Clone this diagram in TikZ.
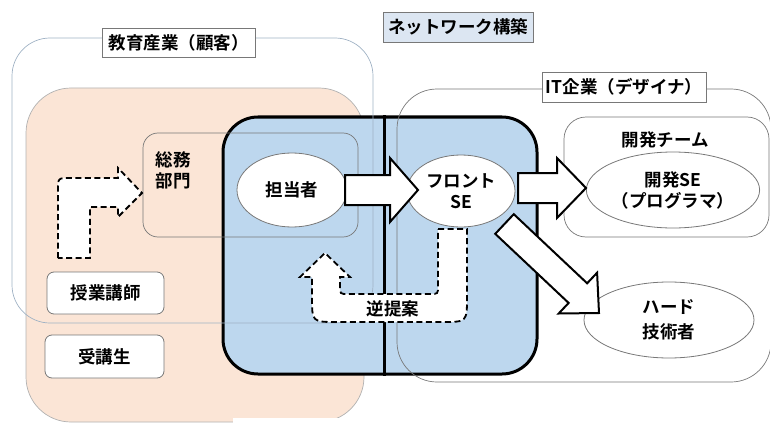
\documentclass[tikz,border=0pt]{standalone}
\usepackage{fontspec}
\setmainfont{Noto Sans CJK JP}[BoldFont={Noto Sans CJK JP Bold}]
\usetikzlibrary{calc,shapes.geometric}

\definecolor{peach}{RGB}{251,229,214}
\definecolor{paleblue}{RGB}{189,215,238}
\definecolor{labelblue}{RGB}{220,230,242}
\definecolor{edgegray}{RGB}{120,120,120}
\definecolor{outerline}{RGB}{160,178,196}

\newcommand\blockarrow[5]{%
  \coordinate (ba-h) at ($(#2)!#5!(#1)$);
  \draw[bigarrow] ($(#1)!#3!90:(#2)$) -- ($(ba-h)!#3!90:(#2)$) -- ($(ba-h)!#4!90:(#2)$) -- (#2)
    -- ($(ba-h)!#4!-90:(#2)$) -- ($(ba-h)!#3!-90:(#2)$) -- ($(#1)!#3!-90:(#2)$) -- cycle;}

\begin{document}
\begin{tikzpicture}[x=1pt,y=-1pt,
  jp/.style={font=\fontsize{17.5}{21}\selectfont\bfseries},
  txt/.style={jp, align=center, inner sep=0pt},
  region/.style={inner sep=0pt, line width=0.7pt},
  labelbox/.style={jp, draw=edgegray, line width=0.8pt, fill=white, inner sep=0pt},
  oval/.style={jp, ellipse, draw=edgegray, line width=0.8pt, fill=white, inner sep=0pt, align=center},
  smallbox/.style={jp, draw=edgegray, line width=0.8pt, fill=white, rounded corners=7pt, inner sep=0pt},
  bigarrow/.style={draw=black, line width=2pt, fill=white, line join=miter},
  dasharrow/.style={draw=black, line width=1.8pt, fill=white, dash pattern=on 6pt off 3.5pt}
]
\useasboundingbox (0,0) rectangle (770,425);

% peach region
\node[region, draw=gray!60, fill=peach, rounded corners=45pt, minimum width=338pt, minimum height=334pt] (peach) at (195,255) {};
\fill[white] (233,418) rectangle (372,426);

% blue network region
\node[region, draw=black, line width=3pt, fill=paleblue, rounded corners=35pt, minimum width=314pt, minimum height=257pt] (blue) at (380,245.5) {};
\draw[line width=3pt] ($(blue.north)+(4,0)$) -- ($(blue.south)+(4,0)$);

% thin outline regions
\node[region, draw=outerline, rounded corners=38pt, minimum width=361pt, minimum height=285pt] (edu) at (192.5,180.5) {};
\node[region, draw=edgegray, rounded corners=15pt, minimum width=215pt, minimum height=104pt] (soumu) at (250.5,185) {};
\node[region, draw=edgegray, rounded corners=40pt, minimum width=374pt, minimum height=293pt] (it) at (584,235.5) {};
\node[region, draw=edgegray, rounded corners=22pt, minimum width=205pt, minimum height=120pt] (dev) at (666.5,177) {};

% label boxes
\node[labelbox, minimum width=153pt, minimum height=29pt] (edulabel) at (178.5,42.5) {教育産業（顧客）};
\node[labelbox, fill=labelblue, minimum width=150pt, minimum height=30pt] (netlabel) at (458,27) {ネットワーク構築};
\node[labelbox, minimum width=164pt, minimum height=30pt] (itlabel) at (624,87) {IT企業（デザイナ）};

% texts
\node[txt] (soumutxt) at (173,170) {総務\\部門};
\node[txt] (devtxt) at (665,140) {開発チーム};

% small boxes
\node[smallbox, minimum width=117pt, minimum height=42pt] (koushi) at (105.5,293) {授業講師};
\node[smallbox, minimum width=119pt, minimum height=43pt] (jukou) at (104.5,356.5) {受講生};

% ellipses
\node[oval, minimum width=110pt, minimum height=74pt] (tantou) at (292,190) {担当者};
\node[oval, minimum width=108pt, minimum height=72pt] (front) at (461,191) {フロント\\SE};
\node[oval, minimum width=170pt, minimum height=76pt] (devse) at (673,190) {開発SE\\（プログラマ）};
\node[oval, minimum width=170pt, minimum height=76pt, font=\fontsize{17.5}{25}\selectfont\bfseries] (hard) at (669,320) {ハード\\技術者};

% dashed L arrow
\draw[dasharrow] (58,258) -- (58,190) .. controls (58,178) .. (70,178) -- (118,178) -- (118,168)
  -- (142,193) -- (118,217) -- (118,207) -- (90,207) -- (90,258) -- cycle;

% dashed U-turn arrow (counter proposal)
\draw[dasharrow] (438,229) -- (467,229) -- (467,297) .. controls (467,322) .. (442,322) -- (337,322)
  .. controls (312,322) .. (312,297) -- (312,277) -- (300,277) -- (325,253) -- (350,277) -- (340,277)
  -- (340,286) .. controls (340,294) .. (348,294) -- (430,294) .. controls (438,294) .. (438,286) -- cycle;
\node[txt] (gyaku) at (393,309) {逆提案};

% block arrows
\coordinate (a1s) at (345,190);
\coordinate (a1t) at (418,190);
\blockarrow{a1s}{a1t}{15pt}{32pt}{28pt}
\coordinate (a2s) at (518,188);
\coordinate (a2t) at (586,188);
\blockarrow{a2s}{a2t}{15pt}{30pt}{29pt}
\coordinate (a3s) at (504.5,224);
\coordinate (a3t) at (599,313);
\blockarrow{a3s}{a3t}{13.5pt}{28pt}{29pt}

\end{tikzpicture}
\end{document}
